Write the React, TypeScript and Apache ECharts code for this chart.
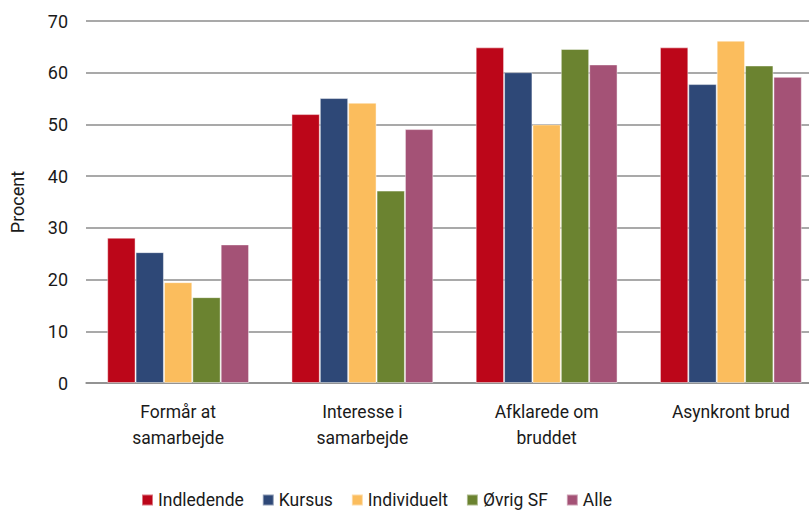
import React, { useEffect, useRef } from "react";
import * as echarts from "echarts";

const categories = ["Formår at\nsamarbejde", "Interesse i\nsamarbejde", "Afklarede om\nbruddet", "Asynkront brud"];
const seriesNames = ["Indledende", "Kursus", "Individuelt", "Øvrig SF", "Alle"];
const indledende = [28.1, 52.0, 64.9, 64.9];
const kursus = [25.3, 55.1, 60.1, 57.8];
const individuelt = [19.5, 54.2, 50.0, 66.2];
const ovrigSF = [16.6, 37.2, 64.6, 61.4];
const alle = [26.8, 49.1, 61.6, 59.2];
const colors = ["#BC0619", "#2E4877", "#FBBD5D", "#6B8330", "#A45276"];

export default function App() {
  const ref = useRef<HTMLDivElement>(null);
  useEffect(() => {
    if (!ref.current) return;
    const chart = echarts.init(ref.current, undefined, { renderer: "svg" });
    const data = [indledende, kursus, individuelt, ovrigSF, alle];
    const font = "Roboto, 'DejaVu Sans', sans-serif";
    chart.setOption({
      animation: false,
      textStyle: { fontFamily: font },
      grid: { left: 85, right: 0, top: 21, bottom: 127, containLabel: false },
      legend: {
        top: 491,
        left: 141,
        padding: 0,
        itemWidth: 11,
        itemHeight: 11,
        itemGap: 18,
        icon: "rect",
        textStyle: { fontSize: 17.5, color: "#1a1a1a", fontFamily: font },
        data: seriesNames,
      },
      xAxis: {
        type: "category",
        data: categories,
        axisLine: { show: true, lineStyle: { color: "#8c8c8c", width: 1.5 } },
        axisTick: { show: false },
        axisLabel: { fontSize: 17.5, color: "#1a1a1a", lineHeight: 26, margin: 16, interval: 0 },
      },
      yAxis: {
        type: "value",
        min: 0,
        max: 70,
        interval: 10,
        name: "Procent",
        nameLocation: "middle",
        nameGap: 60,
        nameTextStyle: { fontSize: 18, color: "#1a1a1a" },
        axisLine: { show: false },
        axisTick: { show: false },
        axisLabel: { fontSize: 18, color: "#1a1a1a", margin: 18 },
        splitLine: { lineStyle: { color: "#8c8c8c", width: 1.5 } },
      },
      series: seriesNames.map((name, i) => ({
        name,
        type: "bar",
        data: data[i],
        barGap: "0%",
        barCategoryGap: "23%",
        itemStyle: { color: colors[i], borderColor: "rgba(255,255,255,0.45)", borderWidth: 1 },
      })),
    });
    return () => chart.dispose();
  }, []);
  return (
    <div style={{ position: "absolute", left: 0, top: 0, width: 809, height: 510, overflow: "hidden" }}>
      <div ref={ref} style={{ width: 823, height: 510 }} />
    </div>
  );
}
